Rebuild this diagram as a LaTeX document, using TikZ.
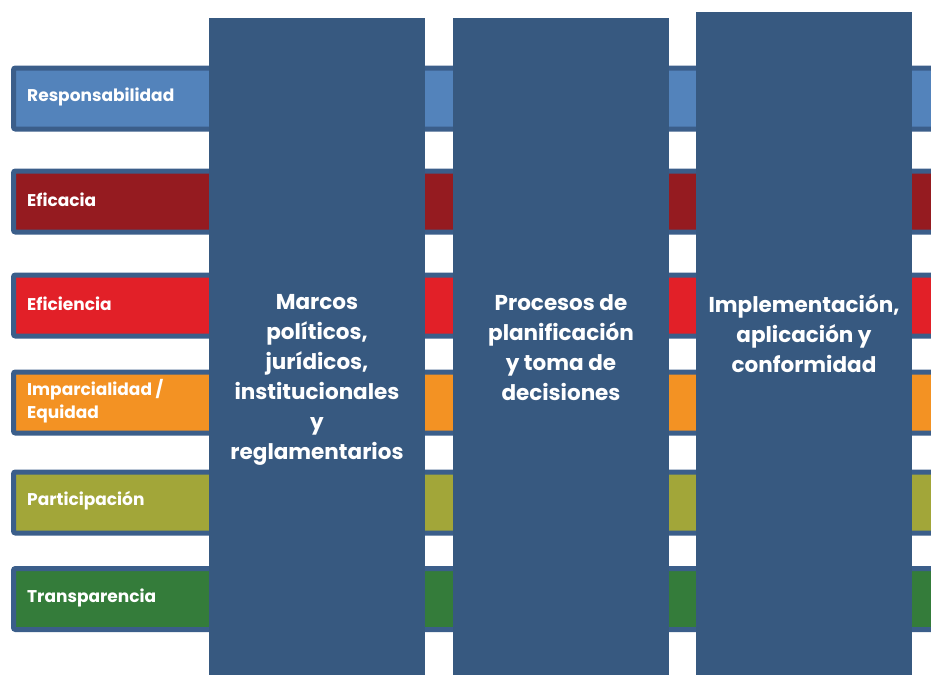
\documentclass[tikz,border=0pt]{standalone}
\usepackage{fontspec}
\setmainfont[Ligatures={NoCommon}]{Poppins}
\definecolor{barline}{HTML}{3B5E8A}
\definecolor{pillarblue}{HTML}{375980}
\definecolor{respblue}{HTML}{5383BB}
\definecolor{eficred}{HTML}{951B20}
\definecolor{efired}{HTML}{E22028}
\definecolor{impor}{HTML}{F39223}
\definecolor{partol}{HTML}{A2A639}
\definecolor{transgr}{HTML}{347C3A}

\begin{document}
\begin{tikzpicture}[x=1pt,y=-1pt,
  bar/.style={line width=5pt,rounded corners=2pt,draw=barline},
  pillar/.style={fill=pillarblue},
  barlabel/.style={anchor=west,text=white,inner sep=0pt,align=left,
    font=\fontsize{17}{23}\selectfont\bfseries},
  pillarlabel/.style={anchor=north,text=white,inner sep=0pt,align=center,
    font=\fontsize{21.5}{30}\selectfont\bfseries}]
\useasboundingbox (0,0) rectangle (931,675);
\clip (0,0) rectangle (931,675);
% principle bars
\foreach \yc/\col/\txt/\nm in {98.5/respblue/Responsabilidad/resp,
  201.5/eficred/Eficacia/efic, 305.5/efired/Eficiencia/efi,
  402.5/impor/{Imparcialidad /\\Equidad}/imp,
  502.5/partol/Participación/part, 599/transgr/Transparencia/trans}{
  \draw[bar,fill=\col] (13.5,\yc-30.5) rectangle (960,\yc+30.5);
  \node[barlabel] (\nm) at (27,\yc-1.5) {\txt};
}
% pillars
\fill[pillar] (209,18) rectangle (425,675);
\fill[pillar] (453,18) rectangle (669,675);
\fill[pillar] (696,12) rectangle (912,675);
\node[pillarlabel] (marcos) at (317,294) {Marcos\\políticos,\\jurídicos,\\institucionales\\y\\reglamentarios};
\node[pillarlabel] (procesos) at (561,294) {Procesos de\\planificación\\y toma de\\decisiones};
\node[pillarlabel] (implem) at (804,294) {Implementación,\\aplicación y\\conformidad};
\end{tikzpicture}
\end{document}
